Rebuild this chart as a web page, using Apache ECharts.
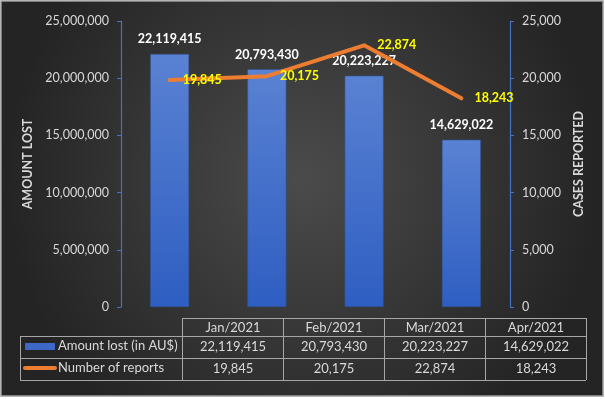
<!DOCTYPE html>
<html>
<head>
<meta charset="utf-8">
<script src="https://cdn.jsdelivr.net/npm/echarts@6/dist/echarts.min.js"></script>
<style>
html,body{margin:0;padding:0;background:#ffffff;}
#c{width:605px;height:399px;}
</style>
</head>
<body>
<div id="c"></div>
<script>
const categories = ['Jan/2021', 'Feb/2021', 'Mar/2021', 'Apr/2021'];
const amountLost = [22119415, 20793430, 20223227, 14629022];
const reports = [19845, 20175, 22874, 18243];
const seriesNames = ['Amount lost (in AU$)', 'Number of reports'];
const leftAxis = { min: 0, max: 25000000, interval: 5000000 };
const rightAxis = { min: 0, max: 25000, interval: 5000 };

const fmt = v => Number(v).toLocaleString('en-US');
const FONT = 'Lato, "Noto Sans", sans-serif';
const TXT = '#d9d9d9';
const AXIS_BLUE = '#4472C4';

// table layout
const colX = [182, 283, 384, 485, 586];
const tableLeft = 20;
const rowY = [318, 336, 358, 380];
const gridColor = '#a6a6a6';

const graphics = [];
// background frame
graphics.push({
  type: 'rect', z: -10, silent: true,
  shape: { x: 1, y: 1, width: 602, height: 395 },
  style: {
    fill: { type: 'radial', x: 0.5, y: 0.45, r: 0.75,
      colorStops: [{ offset: 0, color: '#4b4b4b' }, { offset: 1, color: '#242424' }] },
    stroke: '#9c9c9c', lineWidth: 1.5
  }
});
function hline(x1, x2, y) {
  graphics.push({ type: 'line', silent: true, shape: { x1, y1: y, x2, y2: y }, style: { stroke: gridColor, lineWidth: 1 } });
}
function vline(x, y1, y2) {
  graphics.push({ type: 'line', silent: true, shape: { x1: x, y1, x2: x, y2 }, style: { stroke: gridColor, lineWidth: 1 } });
}
hline(colX[0], colX[4], rowY[0] + 0.5);
hline(tableLeft, colX[4], rowY[1] + 0.5);
hline(tableLeft, colX[4], rowY[2] + 0.5);
hline(tableLeft, colX[4], rowY[3] + 0.5);
vline(tableLeft + 0.5, rowY[1], rowY[3]);
colX.forEach(x => vline(x + 0.5, rowY[0], rowY[3]));

function cellText(text, x, y, align) {
  graphics.push({ type: 'text', silent: true, x, y,
    style: { text, fill: TXT, font: '13px ' + FONT, align: align || 'center', verticalAlign: 'middle' } });
}
categories.forEach((c, i) => {
  const cx = (colX[i] + colX[i + 1]) / 2 + 0.5;
  cellText(c, cx, 327.5);
  cellText(fmt(amountLost[i]), cx, 347);
  cellText(fmt(reports[i]), cx, 368.5);
});
// legend keys
graphics.push({ type: 'rect', silent: true, shape: { x: 25, y: 343, width: 30, height: 7 },
  style: { fill: '#3d68c8' } });
graphics.push({ type: 'line', silent: true, shape: { x1: 25, y1: 368, x2: 55, y2: 368 },
  style: { stroke: '#ED7D31', lineWidth: 4, lineCap: 'round' } });
cellText(seriesNames[0], 58, 346, 'left');
cellText(seriesNames[1], 58, 367.5, 'left');

const chart = echarts.init(document.getElementById('c'), null, { renderer: 'canvas' });
chart.setOption({
  animation: false,
  backgroundColor: 'transparent',
  textStyle: { fontFamily: FONT },
  grid: { left: 121, right: 95, top: 21, bottom: 92, containLabel: false },
  xAxis: {
    type: 'category', data: categories,
    axisLine: { show: false }, axisTick: { show: false }, axisLabel: { show: false },
    splitLine: { show: false }
  },
  yAxis: [
    {
      type: 'value', min: leftAxis.min, max: leftAxis.max, interval: leftAxis.interval,
      position: 'left',
      name: 'AMOUNT LOST', nameLocation: 'middle', nameRotate: 90, nameGap: 81,
      nameTextStyle: { color: TXT, fontWeight: 'bold', fontSize: 12.5, fontFamily: FONT },
      axisLine: { show: true, lineStyle: { color: AXIS_BLUE, width: 1.2 } },
      axisTick: { show: true, length: 4, lineStyle: { color: AXIS_BLUE } },
      axisLabel: { color: TXT, fontSize: 12.5, margin: 12, fontFamily: FONT, formatter: v => fmt(v) },
      splitLine: { show: false }
    },
    {
      type: 'value', min: rightAxis.min, max: rightAxis.max, interval: rightAxis.interval,
      position: 'right',
      name: 'CASES REPORTED', nameLocation: 'middle', nameRotate: 90, nameGap: 57,
      nameTextStyle: { color: TXT, fontWeight: 'bold', fontSize: 12.5, fontFamily: FONT },
      axisLine: { show: true, lineStyle: { color: AXIS_BLUE, width: 1.2 } },
      axisTick: { show: true, length: 4, lineStyle: { color: AXIS_BLUE } },
      axisLabel: { color: TXT, fontSize: 12.5, margin: 12, fontFamily: FONT, formatter: v => fmt(v) },
      splitLine: { show: false }
    }
  ],
  series: [
    {
      name: seriesNames[0], type: 'bar', yAxisIndex: 0, data: amountLost,
      barWidth: 39,
      itemStyle: {
        color: { type: 'linear', x: 0, y: 0, x2: 0, y2: 1,
          colorStops: [{ offset: 0, color: '#5a82d3' }, { offset: 1, color: '#2e5ec2' }] },
        borderColor: '#2f528f', borderWidth: 0.6
      },
      label: { show: true, position: 'top', distance: 8, color: '#ffffff', fontWeight: 'bold',
        fontSize: 12.5, fontFamily: FONT, formatter: p => fmt(p.value) }
    },
    {
      name: seriesNames[1], type: 'line', yAxisIndex: 1, data: reports, z: 5,
      symbol: 'circle', symbolSize: 0.1, showSymbol: true,
      itemStyle: { color: '#ED7D31' },
      lineStyle: { color: '#ED7D31', width: 4, cap: 'round', join: 'round' },
      label: { show: true, position: 'right', distance: 13, color: '#ffff00', fontWeight: 'bold',
        fontSize: 12.5, fontFamily: FONT, formatter: p => fmt(p.value) }
    }
  ],
  graphic: graphics
});
</script>
</body>
</html>
